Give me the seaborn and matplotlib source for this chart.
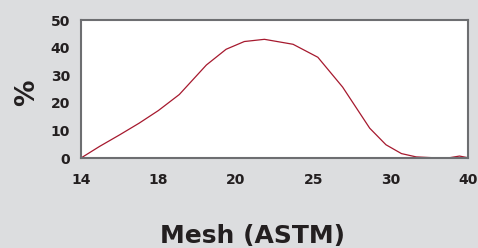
import numpy as np
import pandas as pd
import matplotlib
matplotlib.use("Agg")
import matplotlib.pyplot as plt
import seaborn as sns

# mesh sieve categories, evenly spaced on the axis
mesh_labels = ["14", "18", "20", "25", "30", "40"]

# curve (position in category units, percent)
curve_pos = [0.0, 0.24, 0.50, 0.75, 1.0, 1.27, 1.62, 1.875, 2.11, 2.37, 2.74,
             3.06, 3.38, 3.73, 3.94, 4.14, 4.33, 4.55, 4.76, 4.89, 5.0]
curve_pct = [0.0, 4.2, 8.4, 12.6, 17.2, 23.0, 33.7, 39.4, 42.2, 43.0, 41.2,
             36.5, 25.7, 10.8, 4.8, 1.6, 0.4, 0.1, 0.1, 0.7, 0.1]

sns.set_style("white")
plt.rcParams['font.family'] = ['DejaVu Sans']

bg = '#dcdddf'
spine_c = '#6d6e71'
text_c = '#231f20'

df = pd.DataFrame({'pos': curve_pos, 'pct': curve_pct})

fig = plt.figure(figsize=(4.78, 2.48), dpi=100, facecolor=bg)
ax = fig.add_axes([81 / 478, 1 - 158 / 248, (468 - 81) / 478, (158 - 20) / 248])
ax.set_facecolor('white')

sns.lineplot(data=df, x='pos', y='pct', color='#a6192e', linewidth=0.9, ax=ax)

ax.set_xlim(0, 5)
ax.set_ylim(0, 50)
ax.set_xticks(range(len(mesh_labels)))
ax.set_xticklabels(mesh_labels)
ax.set_yticks([0, 10, 20, 30, 40, 50])
ax.set_xlabel('')
ax.set_ylabel('%', fontsize=19, fontweight='bold', color=text_c)
ax.yaxis.set_label_coords((27 - 81) / 387, (158 - 93) / 138)
ax.yaxis.label.set_va('center')

for s in ax.spines.values():
    s.set_visible(True)
    s.set_color(spine_c)
    s.set_linewidth(1.5)

ax.tick_params(axis='x', direction='in', length=3.5, width=0.8, color='#8a8b8e',
               pad=11, labelsize=10, labelcolor=text_c)
ax.tick_params(axis='y', direction='inout', length=8, width=0.8, color='#8a8b8e',
               pad=4, labelsize=10, labelcolor=text_c)
for lab in ax.get_xticklabels() + ax.get_yticklabels():
    lab.set_fontweight('bold')

fig.text(253 / 478, 1 - 236 / 248, 'Mesh (ASTM)', ha='center', va='center',
         fontsize=18, fontweight='bold', color=text_c)

fig.savefig('out.png', dpi=100, facecolor=bg)
